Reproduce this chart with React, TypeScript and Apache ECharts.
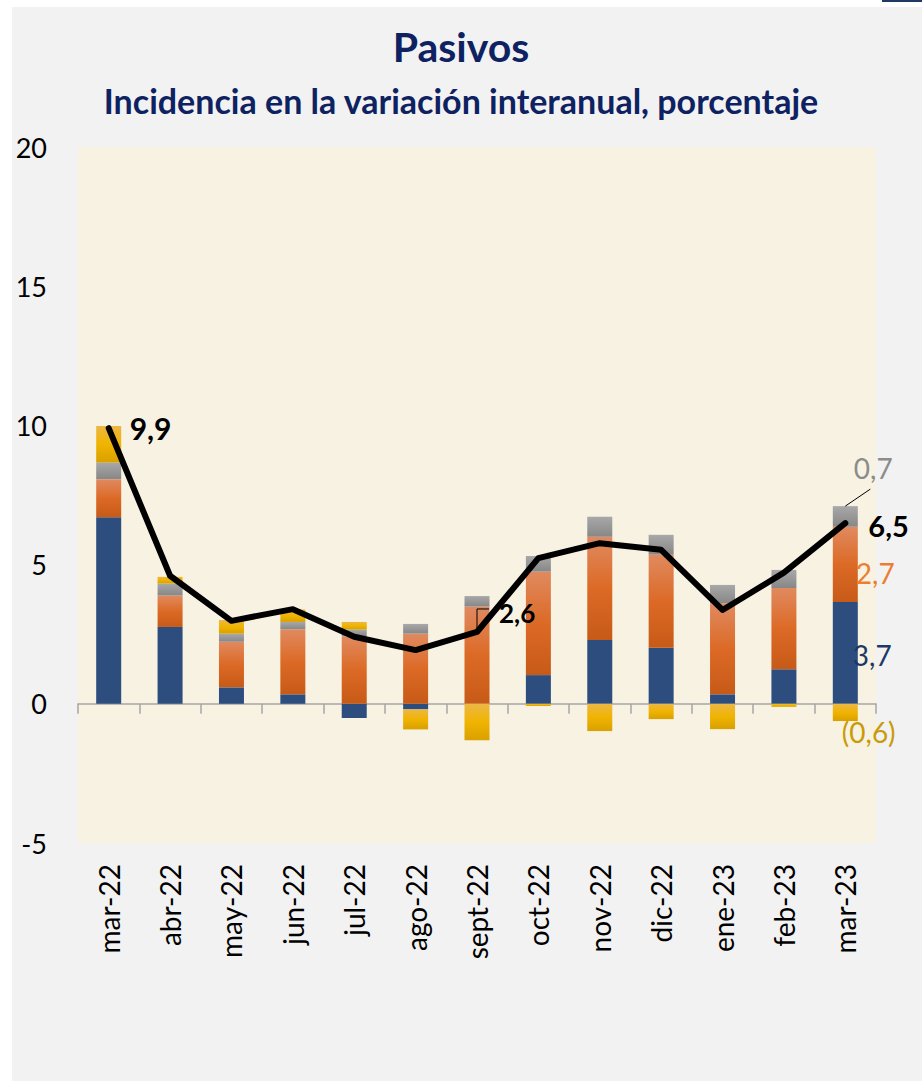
import React, { useEffect, useRef } from "react";
import * as echarts from "echarts";

const categories = ["mar-22", "abr-22", "may-22", "jun-22", "jul-22", "ago-22", "sept-22", "oct-22", "nov-22", "dic-22", "ene-23", "feb-23", "mar-23"];
const blueValues = [6.7, 2.76, 0.59, 0.34, -0.51, -0.2, 0.0, 1.03, 2.29, 2.01, 0.34, 1.24, 3.66];
const orangeValues = [1.37, 1.13, 1.64, 2.34, 2.43, 2.52, 3.49, 3.72, 3.71, 3.35, 3.27, 2.92, 2.7];
const greyValues = [0.6, 0.43, 0.29, 0.26, 0.24, 0.35, 0.38, 0.56, 0.72, 0.71, 0.66, 0.65, 0.74];
const yellowValues = [1.31, 0.24, 0.49, 0.45, 0.27, -0.72, -1.31, -0.08, -0.98, -0.55, -0.91, -0.11, -0.62];
const totalValues = [9.9, 4.6, 2.98, 3.4, 2.41, 1.93, 2.58, 5.23, 5.77, 5.53, 3.37, 4.71, 6.49];
const yTicks = { min: -5, max: 20, interval: 5 };

const FONT = "Lato, 'Open Sans', sans-serif";

const grad = (stops: [number, string][]) =>
  new echarts.graphic.LinearGradient(0, 0, 0, 1, stops.map(([offset, color]) => ({ offset, color })));

const fmt = (v: number) => v.toFixed(1).replace(".", ",");
const fmtNeg = (v: number) => (v < 0 ? "(" + fmt(-v) + ")" : fmt(v));

export default function App() {
  const ref = useRef<HTMLDivElement>(null);
  useEffect(() => {
    document.body.style.margin = "0";
    if (!ref.current) return;
    const chart = echarts.init(ref.current, undefined, { renderer: "svg" });
    const last = categories.length - 1;

    const lineData = totalValues.map((v, i) => {
      if (i === 0)
        return { value: v, label: { show: true, position: "right", distance: 20, formatter: fmt(v), fontSize: 30, fontWeight: "bold", color: "#000", fontFamily: FONT } };
      if (i === 6)
        return { value: v, label: { show: true, position: "right", distance: 21, offset: [0, -19], formatter: fmt(v), fontSize: 26, fontWeight: "bold", color: "#000", fontFamily: FONT } };
      if (i === last)
        return { value: v, label: { show: true, position: "right", distance: 22, offset: [0, 2], formatter: fmt(v), fontSize: 29, fontWeight: "bold", color: "#000", fontFamily: FONT } };
      return v;
    });

    const withLastLabel = (arr: number[], lab: any) =>
      arr.map((v, i) => (i === last ? { value: v, label: { show: true, fontFamily: FONT, fontSize: 28, ...lab, formatter: fmtNeg(v) } } : v));

    const baseGraphic = [
      { type: "rect", z: -10, shape: { x: 12, y: 7, width: 910, height: 1074 }, style: { fill: "#f2f2f2" } },
      { type: "rect", z: -10, shape: { x: 882, y: 0, width: 40, height: 2 }, style: { fill: "#1f3864" } },
    ];

    const option: any = {
      animation: false,
      backgroundColor: "#ffffff",
      textStyle: { fontFamily: FONT },
      title: [
        { text: "Pasivos", left: "center", top: 21, textStyle: { fontFamily: FONT, fontSize: 41, fontWeight: "bold", color: "#0e2262" } },
        { text: "Incidencia en la variación interanual, porcentaje", left: "center", top: 78, textStyle: { fontFamily: FONT, fontSize: 34, fontWeight: "bold", color: "#0e2262" } },
      ],
      graphic: baseGraphic,
      grid: { left: 78, right: 46, top: 147, bottom: 238, show: true, backgroundColor: "#f8f2e3", borderWidth: 0 },
      xAxis: [
        {
          type: "category",
          data: categories,
          position: "bottom",
          axisLine: { show: false, onZero: false },
          axisTick: { show: false },
          axisLabel: { rotate: 90, margin: 21, fontSize: 28, color: "#000", fontFamily: FONT },
        },
        {
          type: "category",
          data: categories,
          position: "bottom",
          axisLine: { show: true, onZero: true, lineStyle: { color: "#a6a6a6", width: 1.5 } },
          axisTick: { show: true, length: 10, lineStyle: { color: "#a6a6a6", width: 1.5 } },
          axisLabel: { show: false },
        },
      ],
      yAxis: {
        type: "value",
        min: yTicks.min,
        max: yTicks.max,
        interval: yTicks.interval,
        axisLine: { show: false },
        axisTick: { show: false },
        splitLine: { show: false },
        axisLabel: { fontSize: 27, color: "#000", margin: 31, fontFamily: FONT },
      },
      series: [
        {
          name: "blue", type: "bar", stack: "s", barWidth: 25, xAxisIndex: 0,
          itemStyle: { color: "#2d4d7f" },
          data: withLastLabel(blueValues, { position: "right", distance: -5, offset: [0, 2], color: "#203864" }),
        },
        {
          name: "orange", type: "bar", stack: "s", barWidth: 25, xAxisIndex: 0,
          itemStyle: { color: grad([[0, "#e08a60"], [0.5, "#dc6a26"], [1, "#c75a17"]]) },
          data: withLastLabel(orangeValues, { position: "right", distance: -2, offset: [0, 9], color: "#ed7d31" }),
        },
        {
          name: "grey", type: "bar", stack: "s", barWidth: 25, xAxisIndex: 0,
          itemStyle: { color: grad([[0, "#a8a8a8"], [1, "#878787"]]) },
          data: withLastLabel(greyValues, { position: "right", distance: -4, offset: [0, -48], color: "#8c8c8c" }),
        },
        {
          name: "yellow", type: "bar", stack: "s", barWidth: 25, xAxisIndex: 0,
          itemStyle: { color: grad([[0, "#ecb746"], [0.5, "#f0b400"], [1, "#d9a000"]]) },
          data: withLastLabel(yellowValues, { position: "right", distance: -16, offset: [0, 20], color: "#c99b06" }),
        },
        {
          name: "total", type: "line", xAxisIndex: 0, z: 5,
          symbol: "circle", symbolSize: 2, showSymbol: true,
          itemStyle: { color: "#000" },
          lineStyle: { color: "#000", width: 6, join: "round", cap: "round" },
          data: lineData,
        },
      ],
    };
    chart.setOption(option);

    // leader lines for annotations
    const stackTop = blueValues[last] + orangeValues[last] + greyValues[last];
    const pGrey = chart.convertToPixel({ gridIndex: 0 }, [last, stackTop]) as number[];
    const pSept = chart.convertToPixel({ gridIndex: 0 }, [6, totalValues[6]]) as number[];
    chart.setOption({
      graphic: [
        ...baseGraphic,
        { type: "line", z: 10, shape: { x1: pGrey[0], y1: pGrey[1], x2: pGrey[0] + 25, y2: pGrey[1] - 17 }, style: { stroke: "#000", lineWidth: 1 } },
        { type: "polyline", z: 3, shape: { points: [[pSept[0], pSept[1] - 3], [pSept[0], pSept[1] - 23], [pSept[0] + 12, pSept[1] - 23]] }, style: { stroke: "#000", lineWidth: 1, fill: "none" } },
      ],
    });

    return () => chart.dispose();
  }, []);
  return <div ref={ref} style={{ width: 922, height: 1081 }} />;
}
